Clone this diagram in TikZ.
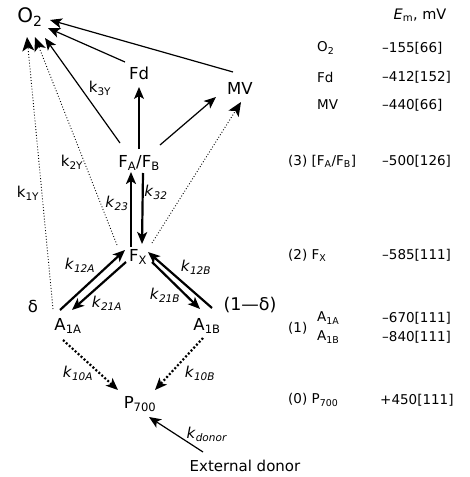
\documentclass[tikz,border=0pt]{standalone}
\usepackage{fontspec}
\setmainfont{DejaVu Sans}
\usepackage{tikz}
\usetikzlibrary{arrows.meta}

\newcommand{\fs}[1]{\fontsize{#1}{#1}\selectfont}
\newcommand{\sub}[1]{\textsubscript{#1}}
\newcommand{\krate}[1]{\textit{k}\textsubscript{\textit{#1}}}

\begin{document}
\begin{tikzpicture}[
  x=1pt, y=-1pt,
  lbl/.style={inner sep=0pt, font=\fs{16.5}},
  rate/.style={inner sep=0pt, font=\fs{15}},
  tab/.style={inner sep=0pt, anchor=west, font=\fs{13.5}},
  arr/.style={-{Stealth[length=12pt, width=10pt, inset=3pt]}, line width=1.2pt},
  thk/.style={-{Stealth[length=12pt, width=10pt, inset=3pt]}, line width=2.2pt},
  dot/.style={-{Stealth[length=14pt, width=12pt, inset=3.5pt, line width=1.2pt]},
              line width=0.9pt, dotted},
  tdot/.style={-{Stealth[length=12pt, width=10pt, inset=3pt]}, line width=2.2pt,
               dash pattern=on 2pt off 2pt}
]
  \useasboundingbox (0,0) rectangle (470,477);

  % species
  \node[lbl, font=\fs{20}] (o2) at (30,17) {O\sub{2}};
  \node[lbl] (fd)   at (139,73)  {Fd};
  \node[lbl] (mv)   at (240,88)  {MV};
  \node[lbl] (fab)  at (139,163) {F\sub{A}/F\sub{B}};
  \node[lbl] (fx)   at (138,257) {F\sub{X}};
  \node[lbl] (a1a)  at (68,326)  {A\sub{1A}};
  \node[lbl] (a1b)  at (207,326) {A\sub{1B}};
  \node[lbl] (p700) at (140,404) {P\sub{700}};
  \node[lbl] (dlt)  at (33,306)  {δ};
  \node[lbl, font=\fs{17.5}] (ndlt) at (250,305) {(1—δ)};
  \node[inner sep=0pt, font=\fs{15}] (ext) at (245,466) {External donor};

  % to O2
  \draw[arr] ([shift={(-7,-16)}]mv.center) -- ([shift={(20,3)}]o2.center);
  \draw[arr] ([shift={(-14,-11)}]fd.center) -- ([shift={(18,11)}]o2.center);
  \draw[arr] ([shift={(-19,-20)}]fab.center) -- ([shift={(15,21)}]o2.center);
  \draw[dot] ([shift={(-21,-12)}]fx.center) -- ([shift={(5,20)}]o2.center);
  \draw[dot] ([shift={(-15,-17)}]a1a.center) -- ([shift={(-3,20)}]o2.center);

  % from FA/FB
  \draw[arr] ([shift={(0,-14)}]fab.center) -- ([shift={(0,14)}]fd.center);
  \draw[arr] ([shift={(21,-18)}]fab.center) -- ([shift={(-24,9)}]mv.center);
  \draw[dot] ([shift={(14,-14)}]fx.center) -- ([shift={(1,14)}]mv.center);

  % FX <-> FA/FB
  \draw[thk] ([shift={(-7,-10)}]fx.center) -- ([shift={(-8,9)}]fab.center);
  \draw[thk] ([shift={(4,10)}]fab.center) -- ([shift={(4,-13)}]fx.center);

  % A1 <-> FX
  \draw[thk] ([shift={(-8,-16)}]a1a.center) -- ([shift={(-13,-7)}]fx.center);
  \draw[thk] ([shift={(-12,5)}]fx.center) -- ([shift={(4,-16)}]a1a.center);
  \draw[thk] ([shift={(5,-18)}]a1b.center) -- ([shift={(10,-5)}]fx.center);
  \draw[thk] ([shift={(14,5)}]fx.center) -- ([shift={(-7,-17)}]a1b.center);

  % to P700
  \draw[tdot] ([shift={(-5,14)}]a1a.center) -- ([shift={(-22,-14)}]p700.center);
  \draw[tdot] ([shift={(-4,12)}]a1b.center) -- ([shift={(15,-14)}]p700.center);
  \draw[arr] ([shift={(-42,-14)}]ext.center) -- ([shift={(9,13)}]p700.center);

  % rate constants
  \node[rate] at (100,88)  {k\sub{3Y}};
  \node[rate] at (72,162)  {k\sub{2Y}};
  \node[rate] at (28,193)  {k\sub{1Y}};
  \node[rate] at (117,203) {\krate{23}};
  \node[rate] at (156,192) {\krate{32}};
  \node[rate] at (80,265)  {\krate{12A}};
  \node[rate] at (107,303) {\krate{21A}};
  \node[rate] at (196,267) {\krate{12B}};
  \node[rate] at (165,295) {\krate{21B}};
  \node[rate] at (78,373)  {\krate{10A}};
  \node[rate] at (200,373) {\krate{10B}};
  \node[rate] at (207,434) {\krate{donor}};

  % midpoint potentials
  \node[inner sep=0pt, font=\fs{14.5}] (em) at (420,15) {\textit{E}\sub{m}, mV};
  \node[tab] (to2)  at (317,48)  {O\sub{2}};
  \node[tab] (tfd)  at (317,77)  {Fd};
  \node[tab] (tmv)  at (317,105) {MV};
  \node[tab] (tfab) at (288,161) {(3) [F\sub{A}/F\sub{B}]};
  \node[tab] (tfx)  at (288,255) {(2) F\sub{X}};
  \node[tab] (t1)   at (288,328) {(1)};
  \node[tab] (ta1a) at (317,318) {A\sub{1A}};
  \node[tab] (ta1b) at (317,337) {A\sub{1B}};
  \node[tab] (tp)   at (288,400) {(0) P\sub{700}};
  \node[tab] (vo2)  at (382,48)  {–155[66]};
  \node[tab] (vfd)  at (382,77)  {–412[152]};
  \node[tab] (vmv)  at (382,105) {–440[66]};
  \node[tab] (vfab) at (382,161) {–500[126]};
  \node[tab] (vfx)  at (382,255) {–585[111]};
  \node[tab] (va1a) at (382,318) {–670[111]};
  \node[tab] (va1b) at (382,337) {–840[111]};
  \node[tab] (vp)   at (380,400) {+450[111]};
\end{tikzpicture}
\end{document}
